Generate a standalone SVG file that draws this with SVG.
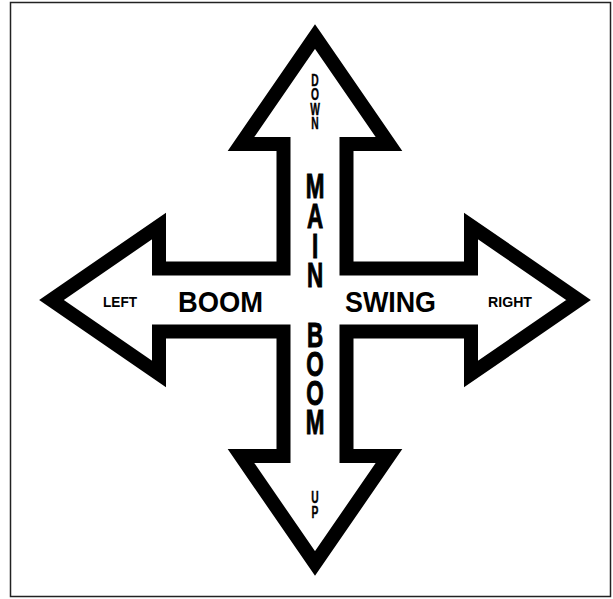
<svg xmlns="http://www.w3.org/2000/svg" width="613" height="599" viewBox="0 0 613 599">
  <style>
    .t { font-family: "Liberation Sans", Arial, sans-serif; font-weight: bold; fill: #000; }
    .v { text-anchor: middle; stroke: #000; stroke-width: 1; }
    .big { font-size: 35px; }
    .small { font-size: 16px; stroke-width: 0.4; }
    .h { font-size: 30px; }
    .s { font-size: 15px; }
  </style>
  <rect x="0" y="0" width="613" height="599" fill="#fff"/>
  <g id="frame">
    <rect x="10.5" y="2.5" width="600" height="594" fill="none" stroke="#222" stroke-width="1.5"/>
  </g>
  <g id="cross">
    <path d="M315 36.5 L389 144 L346.5 144 L346.5 268.5 L471 268.5 L471 226 L578.5 300 L471 374 L471 331.5 L346.5 331.5 L346.5 456 L389 456 L315 563.5 L241 456 L283.5 456 L283.5 331.5 L159 331.5 L159 374 L51.5 300 L159 226 L159 268.5 L283.5 268.5 L283.5 144 L241 144 Z" fill="#fff" stroke="#000" stroke-width="14" stroke-linejoin="miter"/>
  </g>
  <g id="vertical-labels" transform="translate(315 0) scale(0.64 1)">
    <g id="down">
      <text class="t v small" x="0" y="86">D</text>
      <text class="t v small" x="0" y="100.5">O</text>
      <text class="t v small" x="0" y="115">W</text>
      <text class="t v small" x="0" y="129.5">N</text>
    </g>
    <g id="main">
      <text class="t v big" x="0" y="198">M</text>
      <text class="t v big" x="0" y="228">A</text>
      <text class="t v big" x="0" y="258">I</text>
      <text class="t v big" x="0" y="287">N</text>
    </g>
    <g id="boom-v">
      <text class="t v big" x="0" y="347">B</text>
      <text class="t v big" x="0" y="376">O</text>
      <text class="t v big" x="0" y="405">O</text>
      <text class="t v big" x="0" y="434">M</text>
    </g>
    <g id="up">
      <text class="t v small" x="0" y="503">U</text>
      <text class="t v small" x="0" y="518">P</text>
    </g>
  </g>
  <g id="horizontal-labels">
    <text class="t s" x="103" y="306.5" textLength="34" lengthAdjust="spacingAndGlyphs">LEFT</text>
    <text class="t h" x="178" y="312" textLength="85" lengthAdjust="spacingAndGlyphs">BOOM</text>
    <text class="t h" x="345" y="311.5" textLength="91" lengthAdjust="spacingAndGlyphs">SWING</text>
    <text class="t s" x="488" y="307" textLength="44" lengthAdjust="spacingAndGlyphs">RIGHT</text>
  </g>
</svg>
